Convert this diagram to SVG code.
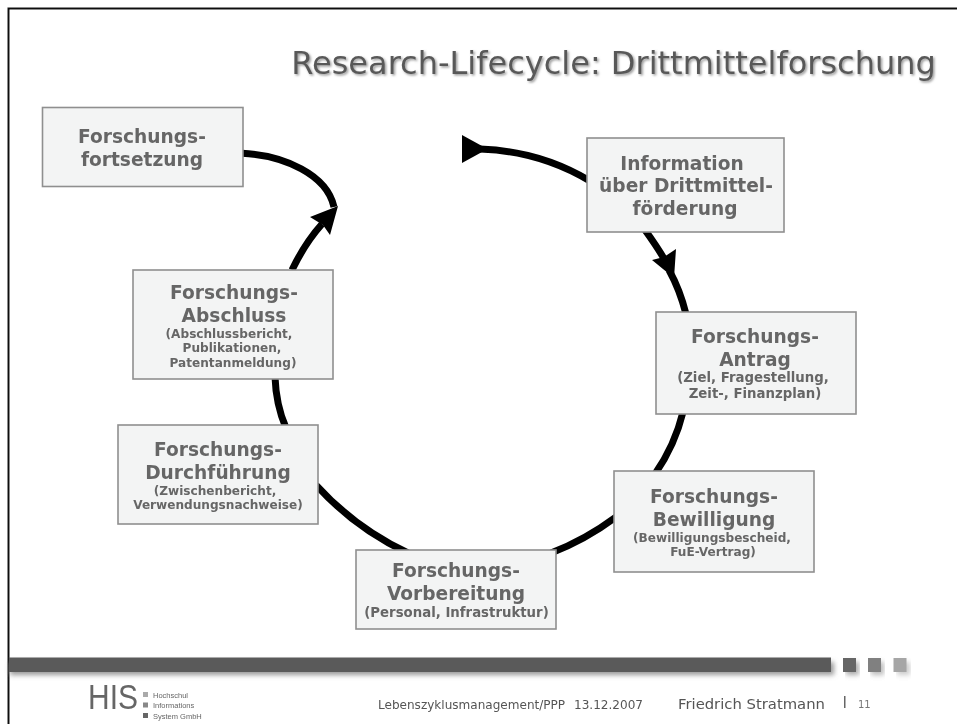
<svg xmlns="http://www.w3.org/2000/svg" width="957" height="724" viewBox="0 0 957 724">
<style>
text{font-family:"DejaVu Sans","Liberation Sans",sans-serif;fill:#666;text-anchor:middle}
.b{fill:#f3f4f4;stroke:#8f8f8f;stroke-width:1.6}
.h{font-size:18.600px;font-weight:bold}
.s{font-size:12.100px;font-weight:bold}
.l{font-size:13.300px;font-weight:bold}
.c{fill:none;stroke:#000;stroke-width:7}
.a{fill:#000;stroke:none}
.f{text-anchor:start;fill:#555}
.t{font-family:"Liberation Sans",sans-serif;text-anchor:start;font-size:7.500px}
.sq{filter:url(#sh)}
</style>
<defs>
<filter id="soft" x="-5%" y="-5%" width="110%" height="110%"><feGaussianBlur stdDeviation="0.55"/></filter>
<filter id="sh" x="-5%" y="-60%" width="110%" height="300%"><feGaussianBlur stdDeviation="2.500"/></filter>
<filter id="tsh" x="-5%" y="-20%" width="110%" height="150%"><feDropShadow dx="1.500" dy="1.500" stdDeviation="1" flood-color="#999"/></filter>
</defs>
<rect width="957" height="724" fill="#fff"/>
<g filter="url(#soft)">
<path d="M8.500 724V8.500H957" fill="none" stroke="#111" stroke-width="2"/>
<g id="title">
<text x="613.500" y="74" font-size="32" style="fill:#595959" filter="url(#tsh)">Research-Lifecycle: Drittmittelforschung</text>
</g>
<g id="connectors">
<path class="c" d="M239 153C285 155 327 175 334 207"/>
<path class="a" d="M338 206L330 235L323 225L310 217Z"/>
<path class="c" d="M292 270Q305 243 322 224"/>
<path class="c" d="M480 149Q540 151 590 181"/>
<path class="a" d="M462 135L482 146L482 152L462 163Z"/>
<path class="c" d="M645 230Q658 248 666 262"/>
<path class="a" d="M676 249L674 278L652 260L664 257Z"/>
<path class="c" d="M669 270Q680 290 686 314"/>
<path class="c" d="M683 412Q675 445 655 474"/>
<path class="c" d="M616 517Q585 540 551 553"/>
<path class="c" d="M316 485Q355 528 408 553"/>
<path class="c" d="M275 377Q276 405 286 428"/>
</g>
<g id="n1"><rect class="b" x="42.500" y="107.500" width="200.500" height="79"/><text class="h" x="142" y="143">Forschungs-</text><text class="h" x="142" y="166">fortsetzung</text></g>
<g id="n2"><rect class="b" x="587" y="138" width="197" height="94"/><text class="h" x="682" y="170">Information</text><text class="h" x="686" y="192">über Drittmittel-</text><text class="h" x="685" y="215">förderung</text></g>
<g id="n3"><rect class="b" x="656" y="312" width="200" height="102"/><text class="h" x="755" y="343">Forschungs-</text><text class="h" x="755" y="366">Antrag</text><text class="l" x="753" y="382">(Ziel, Fragestellung,</text><text class="l" x="755" y="398">Zeit-, Finanzplan)</text></g>
<g id="n4"><rect class="b" x="614" y="471" width="200" height="101"/><text class="h" x="714" y="503">Forschungs-</text><text class="h" x="714" y="526">Bewilligung</text><text class="s" x="712" y="542">(Bewilligungsbescheid,</text><text class="s" x="713" y="556">FuE-Vertrag)</text></g>
<g id="n5"><rect class="b" x="356" y="550" width="200" height="79"/><text class="h" x="456" y="577">Forschungs-</text><text class="h" x="456" y="600">Vorbereitung</text><text class="l" x="456.500" y="617">(Personal, Infrastruktur)</text></g>
<g id="n6"><rect class="b" x="118" y="425" width="200" height="99"/><text class="h" x="218" y="456">Forschungs-</text><text class="h" x="218" y="479">Durchführung</text><text class="s" x="215" y="495">(Zwischenbericht,</text><text class="s" x="218" y="509">Verwendungsnachweise)</text></g>
<g id="n7"><rect class="b" x="133" y="270" width="200" height="109"/><text class="h" x="234" y="299">Forschungs-</text><text class="h" x="234" y="322">Abschluss</text><text class="s" x="229" y="338">(Abschlussbericht,</text><text class="s" x="232" y="352">Publikationen,</text><text class="s" x="233" y="367">Patentanmeldung)</text></g>
<g id="footer">
<rect x="10" y="662" width="824" height="13" fill="#999" class="sq"/>
<rect x="846" y="662" width="13" height="13" fill="#aaa" class="sq"/>
<rect x="871" y="662" width="13" height="13" fill="#bbb" class="sq"/>
<rect x="897" y="662" width="13" height="13" fill="#ccc" class="sq"/>
<rect x="9" y="657.500" width="822" height="14.500" fill="#5a5a5a"/>
<rect x="843" y="658" width="13" height="14" fill="#666"/>
<rect x="868" y="658" width="13" height="14" fill="#808080"/>
<rect x="893.500" y="658" width="13" height="14" fill="#a6a6a6"/>
<text x="113" y="709" font-size="35" style="font-family:'Liberation Sans',sans-serif;fill:#666" textLength="50" lengthAdjust="spacingAndGlyphs">HIS</text>
<rect x="143" y="692" width="5" height="5" fill="#aaa"/><rect x="143" y="702.500" width="5" height="5" fill="#888"/><rect x="143" y="713" width="5" height="5" fill="#666"/>
<text class="t" x="153" y="698">Hochschul</text><text class="t" x="153" y="708">Informations</text><text class="t" x="153" y="719">System GmbH</text>
<text class="f" x="378" y="709" font-size="12.050">Lebenszyklusmanagement/PPP</text>
<text class="f" x="574" y="709" font-size="12.050">13.12.2007</text>
<text class="f" x="678" y="709" font-size="14.800">Friedrich Stratmann</text>
<rect x="844" y="696" width="1.500" height="12" fill="#666"/>
<text class="f" x="858" y="708" font-size="10" style="fill:#777">11</text>
</g>
</g>
</svg>
